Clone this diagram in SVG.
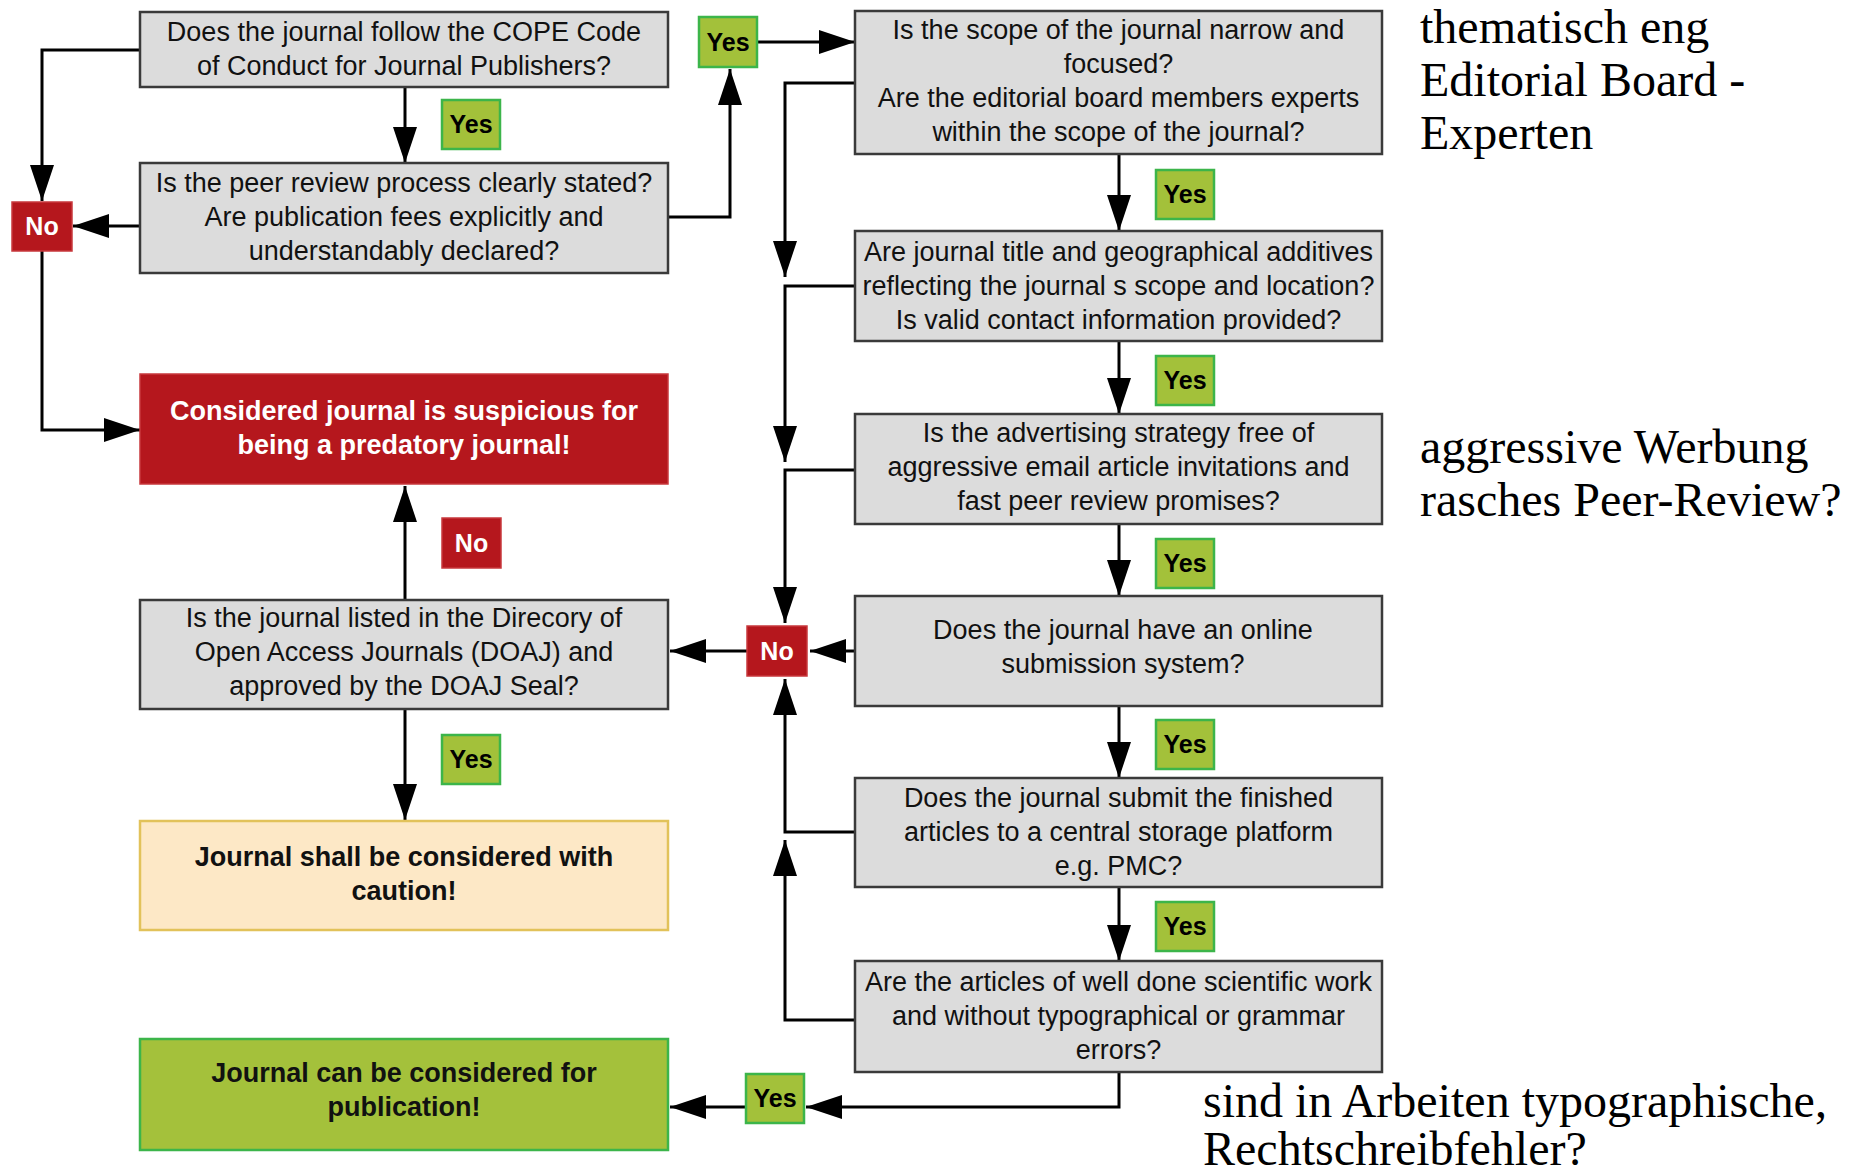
<svg xmlns="http://www.w3.org/2000/svg" width="1863" height="1175" viewBox="0 0 1863 1175">
<defs>
<style>
.q{fill:#dcdcdc;stroke:#3a3a3a;stroke-width:2.5}
.red{fill:#b5171d;stroke:#c8393d;stroke-width:1.5}
.yes{fill:#a3c13a;stroke:#3cb54a;stroke-width:2.5}
.no{fill:#b5171d;stroke:#c8393d;stroke-width:1.5}
.caution{fill:#fde8c6;stroke:#e2c25a;stroke-width:2.5}
.pub{fill:#a4c13b;stroke:#3cb54a;stroke-width:2.5}
.t{font-family:"Liberation Sans",Arial,sans-serif;font-size:27px;fill:#111;text-anchor:middle}
.tb{font-family:"Liberation Sans",Arial,sans-serif;font-size:27px;font-weight:bold;text-anchor:middle}
.lbl{font-family:"Liberation Sans",Arial,sans-serif;font-size:25px;font-weight:bold;text-anchor:middle}
.de{font-family:"Liberation Serif","Times New Roman",serif;font-size:48px;fill:#000}
.c{fill:none;stroke:#000;stroke-width:3;marker-end:url(#ah)}
</style>
<marker id="ah" markerUnits="userSpaceOnUse" markerWidth="36" markerHeight="24" refX="36" refY="12" orient="auto">
<path d="M0,0 L36,12 L0,24 Z" fill="#000"/>
</marker>
</defs>
<rect width="1863" height="1175" fill="#fff"/>

<g id="connectors">
<path class="c" d="M140,50 H42 V201"/>
<path class="c" d="M405,87 V163"/>
<path class="c" d="M140,226 H73"/>
<path class="c" d="M42,251 V430 H140"/>
<path class="c" d="M668,217 H730 V69"/>
<path class="c" d="M758,42 H855"/>
<path class="c" d="M1119,154 V231"/>
<path class="c" d="M1119,341 V414"/>
<path class="c" d="M1119,524 V596"/>
<path class="c" d="M1119,706 V778"/>
<path class="c" d="M1119,887 V961"/>
<path class="c" d="M855,83 H785 V277"/>
<path class="c" d="M855,286 H785 V462"/>
<path class="c" d="M855,470 H785 V623"/>
<path class="c" d="M855,651 H810"/>
<path class="c" d="M747,651 H670"/>
<path class="c" d="M855,832 H785 V679"/>
<path class="c" d="M855,1020 H785 V840"/>
<path class="c" d="M1119,1072 V1107 H806"/>
<path class="c" d="M746,1107 H670"/>
<path class="c" d="M405,600 V486"/>
<path class="c" d="M405,709 V820"/>
</g>

<g id="q-cope">
<rect class="q" x="140" y="12" width="528" height="75"/>
<text class="t" y="40.5"><tspan x="404">Does the journal follow the COPE Code</tspan><tspan x="404" dy="34">of Conduct for Journal Publishers?</tspan></text>
</g>
<g id="q-peer">
<rect class="q" x="140" y="163" width="528" height="110"/>
<text class="t" y="191.5"><tspan x="404">Is the peer review process clearly stated?</tspan><tspan x="404" dy="34">Are publication fees explicitly and</tspan><tspan x="404" dy="34">understandably declared?</tspan></text>
</g>
<g id="r-predatory">
<rect class="red" x="140" y="374" width="528" height="110"/>
<text class="tb" y="420" fill="#fff"><tspan x="404">Considered journal is suspicious for</tspan><tspan x="404" dy="34">being a predatory journal!</tspan></text>
</g>
<g id="q-doaj">
<rect class="q" x="140" y="600" width="528" height="109"/>
<text class="t" y="627"><tspan x="404">Is the journal listed in the Direcory of</tspan><tspan x="404" dy="34">Open Access Journals (DOAJ) and</tspan><tspan x="404" dy="34">approved by the DOAJ Seal?</tspan></text>
</g>
<g id="r-caution">
<rect class="caution" x="140" y="821" width="528" height="109"/>
<text class="tb" y="866" fill="#111"><tspan x="404">Journal shall be considered with</tspan><tspan x="404" dy="34">caution!</tspan></text>
</g>
<g id="r-publication">
<rect class="pub" x="140" y="1039" width="528" height="111"/>
<text class="tb" y="1081.5" fill="#111"><tspan x="404">Journal can be considered for</tspan><tspan x="404" dy="34">publication!</tspan></text>
</g>

<g id="q-scope">
<rect class="q" x="855" y="11" width="527" height="143"/>
<text class="t" y="39"><tspan x="1118.5">Is the scope of the journal narrow and</tspan><tspan x="1118.5" dy="34">focused?</tspan><tspan x="1118.5" dy="34">Are the editorial board members experts</tspan><tspan x="1118.5" dy="34">within the scope of the journal?</tspan></text>
</g>
<g id="q-title">
<rect class="q" x="855" y="231" width="527" height="110"/>
<text class="t" y="260.5"><tspan x="1118.5">Are journal title and geographical additives</tspan><tspan x="1118.5" dy="34">reflecting the journal s scope and location?</tspan><tspan x="1118.5" dy="34">Is valid contact information provided?</tspan></text>
</g>
<g id="q-advert">
<rect class="q" x="855" y="414" width="527" height="110"/>
<text class="t" y="441.5"><tspan x="1118.5">Is the advertising strategy free of</tspan><tspan x="1118.5" dy="34">aggressive email article invitations and</tspan><tspan x="1118.5" dy="34">fast peer review promises?</tspan></text>
</g>
<g id="q-online">
<rect class="q" x="855" y="596" width="527" height="110"/>
<text class="t" y="638.5"><tspan x="1123">Does the journal have an online</tspan><tspan x="1123" dy="34">submission system?</tspan></text>
</g>
<g id="q-storage">
<rect class="q" x="855" y="778" width="527" height="109"/>
<text class="t" y="806.5"><tspan x="1118.5">Does the journal submit the finished</tspan><tspan x="1118.5" dy="34">articles to a central storage platform</tspan><tspan x="1118.5" dy="34">e.g. PMC?</tspan></text>
</g>
<g id="q-articles">
<rect class="q" x="855" y="961" width="527" height="111"/>
<text class="t" y="991"><tspan x="1118.5">Are the articles of well done scientific work</tspan><tspan x="1118.5" dy="34">and without typographical or grammar</tspan><tspan x="1118.5" dy="34">errors?</tspan></text>
</g>

<g id="labels">
<g id="yes-1"><rect class="yes" x="442" y="100" width="58" height="49"/><text class="lbl" x="471" y="133">Yes</text></g>
<g id="no-1"><rect class="no" x="12" y="202" width="60" height="49"/><text class="lbl" x="42" y="235" fill="#fff">No</text></g>
<g id="yes-2"><rect class="yes" x="699" y="17" width="58" height="50"/><text class="lbl" x="728" y="51">Yes</text></g>
<g id="yes-3"><rect class="yes" x="1156" y="170" width="58" height="49"/><text class="lbl" x="1185" y="203">Yes</text></g>
<g id="yes-4"><rect class="yes" x="1156" y="356" width="58" height="49"/><text class="lbl" x="1185" y="389">Yes</text></g>
<g id="yes-5"><rect class="yes" x="1156" y="539" width="58" height="49"/><text class="lbl" x="1185" y="572">Yes</text></g>
<g id="yes-6"><rect class="yes" x="1156" y="720" width="58" height="49"/><text class="lbl" x="1185" y="753">Yes</text></g>
<g id="yes-7"><rect class="yes" x="1156" y="902" width="58" height="49"/><text class="lbl" x="1185" y="935">Yes</text></g>
<g id="no-2"><rect class="no" x="442" y="518" width="59" height="50"/><text class="lbl" x="471.5" y="552" fill="#fff">No</text></g>
<g id="no-3"><rect class="no" x="747" y="626" width="60" height="50"/><text class="lbl" x="777" y="660" fill="#fff">No</text></g>
<g id="yes-8"><rect class="yes" x="442" y="735" width="58" height="49"/><text class="lbl" x="471" y="768">Yes</text></g>
<g id="yes-9"><rect class="yes" x="746" y="1074" width="58" height="49"/><text class="lbl" x="775" y="1107">Yes</text></g>
</g>

<g id="notes">
<text class="de" x="1420" y="43">thematisch eng</text>
<text class="de" x="1420" y="96">Editorial Board -</text>
<text class="de" x="1420" y="149">Experten</text>
<text class="de" x="1420" y="463">aggressive Werbung</text>
<text class="de" x="1420" y="516">rasches Peer-Review?</text>
<text class="de" x="1203" y="1117">sind in Arbeiten typographische,</text>
<text class="de" x="1203" y="1165">Rechtschreibfehler?</text>
</g>
</svg>
